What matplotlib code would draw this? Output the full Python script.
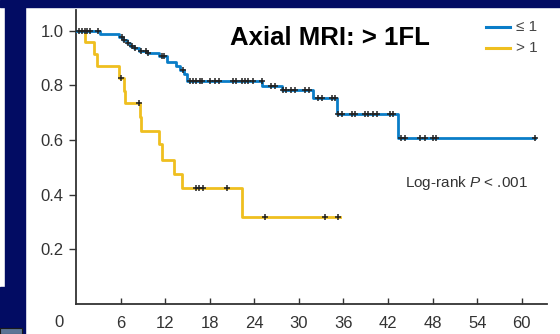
import numpy as np
import matplotlib
matplotlib.use("Agg")
import matplotlib.pyplot as plt
from matplotlib.patches import Rectangle

plt.rcParams['font.family'] = ['Liberation Sans', 'DejaVu Sans']
plt.rcParams['mathtext.fontset'] = 'custom'
plt.rcParams['mathtext.it'] = 'Liberation Sans:italic'
plt.rcParams['mathtext.rm'] = 'Liberation Sans'

# Kaplan-Meier steps (months, survival)
low_t = [0, 3.2, 5.8, 6.3, 6.8, 7.3, 7.8, 8.5, 9.6, 11.2, 12.3, 13.5, 14.0, 14.5, 14.9,
         25.1, 27.7, 31.9, 35.1, 43.4]
low_s = [1.0, 0.986, 0.975, 0.965, 0.955, 0.945, 0.935, 0.926, 0.917, 0.908, 0.886, 0.87,
         0.855, 0.84, 0.815, 0.797, 0.782, 0.754, 0.694, 0.608]
low_end = 61.8
low_cens = [0.4, 0.8, 1.2, 1.5, 1.9, 3.0, 6.2, 6.5, 7.0, 7.5, 8.0, 8.7, 9.4, 9.7, 11.6, 11.9,
            14.4, 15.3, 15.8, 16.2, 16.7, 16.9, 18.0, 18.7, 19.2, 21.2, 21.6, 22.3, 22.7,
            23.2, 23.8, 25.0, 26.3, 26.8, 27.9, 28.3, 29.0, 29.5, 30.8, 31.3, 32.6, 33.1,
            34.4, 34.9, 35.3, 35.8, 37.1, 37.5, 38.9, 39.3, 40.0, 40.5, 42.3, 42.7, 43.8,
            44.3, 46.3, 47.0, 48.1, 48.5, 61.8]

high_t = [0, 1.2, 2.4, 2.8, 5.8, 6.4, 6.6, 8.6, 8.8, 11.2, 11.6, 13.2, 14.3, 22.3]
high_s = [1.0, 0.959, 0.913, 0.870, 0.825, 0.779, 0.734, 0.685, 0.633, 0.584, 0.527,
          0.475, 0.423, 0.317]
high_end = 35.5
high_cens = [6.1, 8.5, 16.2, 16.6, 17.1, 20.3, 25.4, 33.5, 35.3]

x_ticks = [6, 12, 18, 24, 30, 36, 42, 48, 54, 60]
y_ticks = [0.2, 0.4, 0.6, 0.8, 1.0]

BLUE = '#0a7dc8'
GOLD = '#efbf1f'
NAVY = '#020c63'


def at(t, s, x):
    i = np.searchsorted(t, x, side='right') - 1
    return np.array(s)[i]


fig = plt.figure(figsize=(5.6, 3.34), dpi=100)
fig.patch.set_facecolor('white')

# slide background pieces
for (x0, y0, w, h) in [(0, 327, 560, 7), (5, 0, 20, 327), (0, 0, 5, 47)]:
    fig.patches.append(Rectangle((x0 / 560, y0 / 334), w / 560, h / 334,
                                 transform=fig.transFigure, color=NAVY, zorder=0))
fig.patches.append(Rectangle((0, 0), 22 / 560, 6 / 334, transform=fig.transFigure,
                             facecolor='#5c7596', edgecolor='#1a1a1a', lw=0.8, zorder=1))

ax = fig.add_axes([76 / 560, 30 / 334, 471 / 560, 294 / 334])

ax.step(high_t + [high_end], high_s + [high_s[-1]], where='post', color=GOLD, lw=2.0, zorder=2)
ax.step(low_t + [low_end], low_s + [low_s[-1]], where='post', color=BLUE, lw=2.0, zorder=3)
ax.plot(low_cens, at(low_t, low_s, low_cens), '+', color='#222222', ms=4.5, mew=1.1, zorder=4)
ax.plot(high_cens, at(high_t, high_s, high_cens), '+', color='#222222', ms=4.5, mew=1.1, zorder=4)

ax.set_xlim(0, 63.4)
ax.set_ylim(0, 1.075)
ax.set_xticks(x_ticks)
ax.set_yticks(y_ticks)
ax.set_yticklabels([f'{v:.1f}' for v in y_ticks])
ax.tick_params(axis='x', direction='in', length=4, width=1, pad=9, labelsize=12,
               colors='#333333')
ax.tick_params(axis='y', direction='out', length=5, width=1, pad=4, labelsize=12,
               colors='#333333')
ax.text(-2.3, -0.068, '0', ha='center', va='center', fontsize=12, color='#333333')
for side in ['top', 'right']:
    ax.spines[side].set_visible(False)
for side in ['left', 'bottom']:
    ax.spines[side].set_color('#333333')
    ax.spines[side].set_linewidth(1.3)

fig.text(230 / 560, 1 - 38 / 334, 'Axial MRI: > 1FL', ha='left', va='center',
         fontsize=18.5, fontweight='bold', color='black')

# legend drawn by hand
for yy, col, lab in [(27, BLUE, '≤ 1'), (47.5, GOLD, '> 1')]:
    fig.add_artist(plt.Line2D([486 / 560, 510 / 560], [1 - yy / 334] * 2, color=col, lw=2.2,
                              transform=fig.transFigure))
    fig.text(516 / 560, 1 - yy / 334, lab, ha='left', va='center', fontsize=11, color='#444444')

fig.text(405 / 560, 1 - 183 / 334, 'Log-rank $P$ < .001', ha='left', va='center',
         fontsize=11, color='#333333')

fig.savefig('out.png', dpi=100)
